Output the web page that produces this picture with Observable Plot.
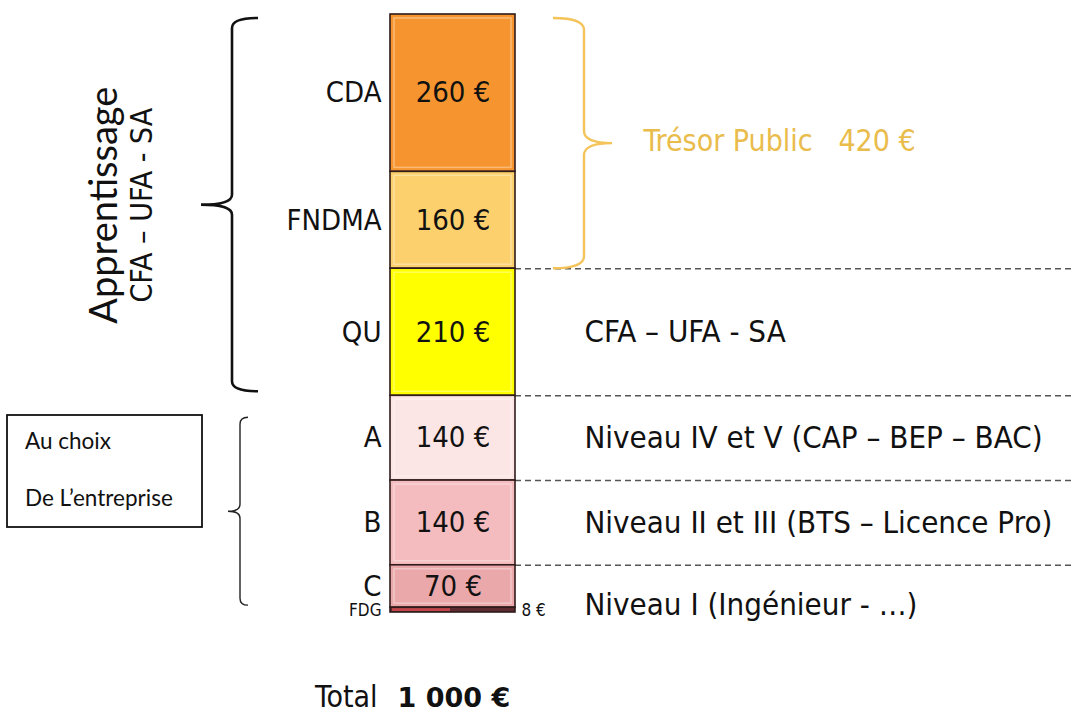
<!DOCTYPE html>
<html><head><meta charset="utf-8">
<script src="https://cdn.jsdelivr.net/npm/d3@7"></script>
<script src="https://cdn.jsdelivr.net/npm/@observablehq/plot@0.6"></script>
<style>body{margin:0;background:#fff}</style>
</head><body><div id="chart"></div>
<script>
// ---- data ----
const segments = ["CDA", "FNDMA", "QU", "A", "B", "C", "FDG"];
const amounts = [260, 160, 210, 140, 140, 70, 8];
const valueLabels = ["260 €", "160 €", "210 €", "140 €", "140 €", "70 €", "8 €"];
const rightSegments = ["QU", "A", "B", "C"];
const rightLabels = ["CFA – UFA - SA", "Niveau IV et V (CAP – BEP – BAC)", "Niveau II et III (BTS – Licence Pro)", "Niveau I (Ingénieur - …)"];
const tresorSegments = ["CDA", "FNDMA"];
const tresorLabel = "Trésor Public";
const apprentSegments = ["CDA", "FNDMA", "QU"];
const apprentTitle = "Apprentissage";
const apprentSub = "CFA – UFA - SA";
const choiceSegments = ["A", "B", "C"];
const choiceLines = ["Au choix", "De L’entreprise"];
const totalWord = "Total";
const totalValue = "1 000 €";

// ---- styles ----
const colors = {CDA: "#F6952F", FNDMA: "#FBD06D", QU: "#FFFF00", A: "#FCE5E5", B: "#F4BCBE", C: "#EBA8AA", FDG: "#5E2B31"};
const FONT = "'DejaVu Sans Condensed', 'DejaVu Sans', sans-serif";
const CAL = "Lato, 'Open Sans', sans-serif";
const W = 1072, H = 715, BX1 = 390, BX2 = 515;

const cum = d3.cumsum(amounts);
const rows = segments.map((s, i) => ({seg: s, amount: amounts[i], label: valueLabels[i], y1: cum[i] - amounts[i], y2: cum[i], mid: cum[i] - amounts[i] / 2}));
const bySeg = Object.fromEntries(rows.map(d => [d.seg, d]));
const total = cum[cum.length - 1];
const span = segs => ({top: bySeg[segs[0]].y1, bot: bySeg[segs[segs.length - 1]].y2});
const rightRows = rightSegments.map((s, i) => ({seg: s, y: bySeg[s].mid, text: rightLabels[i]}));
const dashed = [bySeg.FNDMA.y2, bySeg.QU.y2, bySeg.A.y2, bySeg.B.y2];
const tresorAmount = d3.sum(tresorSegments, s => bySeg[s].amount);
const aSpan = span(apprentSegments), tSpan = span(tresorSegments), cSpan = span(choiceSegments);

function brace(x, tipX, yTop, yBot, hook, r) {
  const yMid = (yTop + yBot) / 2;
  return `M${x + hook},${yTop} Q${x},${yTop} ${x},${yTop + r} L${x},${yMid - r} Q${x},${yMid} ${tipX},${yMid} Q${x},${yMid} ${x},${yMid + r} L${x},${yBot - r} Q${x},${yBot} ${x + hook},${yBot}`;
}

const annotations = (index, scales) => {
  const y = scales.y;
  const g = d3.create("svg:g").attr("text-anchor", "start");
  // big left brace
  g.append("path").attr("d", brace(232, 201, y(aSpan.top) + 4, y(aSpan.bot) - 4, 26, 10))
    .attr("fill", "none").attr("stroke", "#111").attr("stroke-width", 2.6);
  // small left brace
  g.append("path").attr("d", brace(240, 228, y(cSpan.top) + 22, y(cSpan.bot) - 2, 8, 7))
    .attr("fill", "none").attr("stroke", "#222").attr("stroke-width", 1.4);
  // orange right brace
  g.append("path").attr("d", brace(584, 612, y(tSpan.top) + 4, y(tSpan.bot), -31, 12))
    .attr("fill", "none").attr("stroke", "#F4C35A").attr("stroke-width", 2.4);
  // box
  g.append("rect").attr("x", 7).attr("y", 415).attr("width", 195).attr("height", 112)
    .attr("fill", "none").attr("stroke", "#111").attr("stroke-width", 1.8);
  choiceLines.forEach((t, i) => g.append("text").attr("x", 25).attr("y", 449 + i * 57)
    .attr("text-anchor", "start").attr("font-family", CAL).attr("font-size", 22.5).attr("fill", "#111").text(t));
  // total
  const tt = g.append("text").attr("x", 315).attr("y", 707).attr("text-anchor", "start")
    .attr("font-family", FONT).attr("font-size", 30).attr("fill", "#111");
  tt.append("tspan").text(totalWord);
  tt.append("tspan").attr("dx", 20).attr("font-weight", "bold").attr("font-family", "'DejaVu Sans', sans-serif").attr("font-size", 27).text(totalValue);
  return g.node();
};

const plot = Plot.plot({
  width: W, height: H, margin: 0,
  style: {background: "#fff"},
  x: {type: "linear", domain: [0, W], range: [0, W], axis: null},
  y: {type: "linear", domain: [0, total], range: [14, 612], axis: null},
  color: {type: "identity"},
  marks: [
    Plot.ruleY(dashed, {y: d => d, x1: BX2, x2: W, stroke: "#555", strokeWidth: 1.6, strokeDasharray: "6,4"}),
    Plot.rect(rows, {x1: BX1, x2: BX2, y1: "y1", y2: "y2", fill: d => colors[d.seg], stroke: "#2f1b1b", strokeWidth: 1.6}),
    Plot.rect(rows.filter(d => d.seg !== "FDG"), {x1: BX1, x2: BX2, y1: "y1", y2: "y2", insetLeft: 4, insetRight: 4, insetTop: 4, insetBottom: 4, fill: "none", stroke: "#fff", strokeOpacity: 0.35, strokeWidth: 1.5}),
    Plot.rect(rows.filter(d => d.seg === "FDG"), {x1: BX1, x2: 450, y1: "y1", y2: "y2", insetTop: 1, insetBottom: 1, insetLeft: 2, fill: "#C2474C"}),
    Plot.text(rows.filter(d => d.seg !== "FDG"), {x: 381, y: "mid", text: "seg", textAnchor: "end", fontSize: 29, fontFamily: FONT, fill: "#111"}),
    Plot.text(rows.filter(d => d.seg === "FDG"), {x: 381, y: "mid", text: "seg", textAnchor: "end", fontSize: 17, fontFamily: FONT, fill: "#111"}),
    Plot.text(rows.filter(d => d.seg !== "FDG"), {x: (BX1 + BX2) / 2, y: "mid", text: "label", fontSize: 29, fontFamily: FONT, fill: "#111"}),
    Plot.text(rows.filter(d => d.seg === "FDG"), {x: BX2 + 6, y: "mid", text: "label", textAnchor: "start", fontSize: 17, fontFamily: FONT, fill: "#111"}),
    Plot.text(rightRows.filter(d => d.seg !== "C"), {x: 584, y: "y", text: "text", textAnchor: "start", fontSize: 31, fontFamily: FONT, fill: "#111"}),
    Plot.text(rightRows.filter(d => d.seg === "C"), {x: 584, y: "y", dy: 19, text: "text", textAnchor: "start", fontSize: 31, fontFamily: FONT, fill: "#111"}),
    Plot.text([`${tresorLabel}   ${tresorAmount} €`], {x: 643, y: (tSpan.top + tSpan.bot) / 2, text: d => d, textAnchor: "start", fontSize: 30, fontFamily: FONT, fill: "#E9BC4C"}),
    Plot.text([apprentTitle], {x: 104, y: (aSpan.top + aSpan.bot) / 2, text: d => d, rotate: -90, fontSize: 38, fontFamily: CAL, fill: "#111"}),
    Plot.text([apprentSub], {x: 142, y: (aSpan.top + aSpan.bot) / 2, text: d => d, rotate: -90, fontSize: 30, fontFamily: FONT, fill: "#111"}),
    annotations
  ]
});
document.getElementById("chart").append(plot);
</script>
</body></html>
